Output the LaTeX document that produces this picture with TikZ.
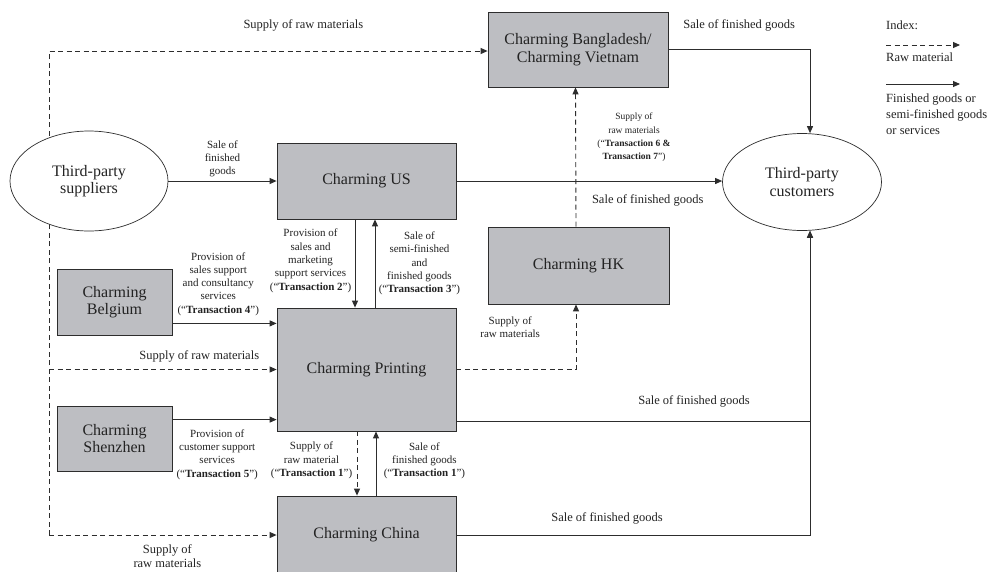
\documentclass[tikz,border=0pt]{standalone}
\usepackage{fontspec}
\setmainfont{Liberation Serif}
\usepackage{tikz}
\usetikzlibrary{arrows.meta, positioning, shapes.geometric}
\definecolor{boxgray}{RGB}{189,190,194}
\definecolor{edgegray}{RGB}{45,45,45}
\definecolor{inkgray}{RGB}{35,35,35}

\begin{document}
\begin{tikzpicture}[
  x=1pt, y=-1pt,
  box/.style={rectangle, draw=edgegray, fill=boxgray, line width=0.8pt, inner sep=0pt, font=\fontsize{16}{17.5}\selectfont, text=inkgray, align=center},
  party/.style={ellipse, draw=edgegray, fill=white, line width=0.7pt, inner sep=0pt, font=\fontsize{16}{17.5}\selectfont, text=inkgray, align=center},
  flow/.style={-{Triangle[length=7pt,width=6pt]}, edgegray, line width=0.9pt},
  raw/.style={flow, dash pattern=on 5pt off 3.5pt},
  lbl/.style={font=\fontsize{11}{13.3}\selectfont, text=inkgray, align=center},
  tinylbl/.style={font=\fontsize{9.5}{13.3}\selectfont, text=inkgray, align=center},
  biglbl/.style={font=\fontsize{12.5}{14}\selectfont, text=inkgray, align=center},
  lgd/.style={font=\fontsize{12.5}{16}\selectfont, text=inkgray, align=left, inner sep=0pt}
]
  \fill[white] (0,0) rectangle (1000,571);
  \useasboundingbox (0,0) rectangle (1000,571);

  \node[box, minimum width=180pt, minimum height=75pt] (bd) at (578,49.5) {Charming Bangladesh/\\Charming Vietnam};
  \node[box, minimum width=179pt, minimum height=76pt] (us) at (366.5,181) {Charming US};
  \node[box, minimum width=181pt, minimum height=77pt] (hk) at (578.5,265.5) {Charming HK};
  \node[box, minimum width=115pt, minimum height=66pt] (bel) at (114.5,302) {Charming\\Belgium};
  \node[box, minimum width=179pt, minimum height=123pt] (prt) at (366.5,369.5) {Charming Printing};
  \node[box, minimum width=115pt, minimum height=65pt] (shz) at (114.5,438.5) {Charming\\Shenzhen};
  \node[box, minimum width=179pt, minimum height=78pt] (chn) at (366.5,535) {Charming China};

  \coordinate (trunktop) at (49,51);
  \coordinate (trunkbot) at (49,535);
  \draw[raw] (trunkbot) -- (trunktop) -- node[biglbl, pos=0.58, above=16pt] {Supply of raw materials} (trunktop -| bd.west);
  \draw[raw] (trunktop |- prt.west) -- node[biglbl, pos=0.66, above=4pt] {Supply of raw materials} (prt.west);
  \draw[raw] (trunkbot) -- node[biglbl, pos=0.52, below=6pt] {Supply of\\raw materials} (chn.west);

  \node[party, minimum width=158pt, minimum height=100pt] (sup) at (89,181) {Third-party\\suppliers};
  \node[party, minimum width=159pt, minimum height=97pt] (cust) at (802,182) {Third-party\\customers};

  \draw[flow] (sup.east) -- node[lbl, midway, above] {Sale of\\finished\\goods} (us.west);
  \draw[flow] (us.east) -- node[biglbl, pos=0.72, below=10pt] {Sale of finished goods} (us.east -| cust.west);
  \draw[flow] (bd.east) -| node[biglbl, pos=0.25, above=15pt] {Sale of finished goods} ([xshift=8pt]cust.north);
  \draw[flow] ([yshift=10pt]prt.south east) -| node[biglbl, pos=0.336, above=10pt] {Sale of finished goods} ([xshift=8pt]cust.south);
  \draw[flow] (chn.east) -| node[biglbl, pos=0.213, above=7pt] {Sale of finished goods} ([xshift=8pt]cust.south);

  \draw[flow] ([yshift=12pt]bel.south east) coordinate (b4) -- node[lbl, pos=0.44, above=4pt] {Provision of\\sales support\\and consultancy\\services\\(“\textbf{Transaction 4}”)} (b4 -| prt.west);
  \draw[flow] ([yshift=-14pt]shz.north east) coordinate (b5) -- node[lbl, pos=0.43, below=6pt] {Provision of\\customer support\\services\\(“\textbf{Transaction 5}”)} (b5 -| prt.west);

  \draw[flow] ([xshift=-11.5pt]us.south) coordinate (t2) -- node[lbl, pos=0.47, left] {Provision of\\sales and\\marketing\\support services\\(“\textbf{Transaction 2}”)} (t2 |- prt.north);
  \draw[flow] ([xshift=8.5pt]prt.north) coordinate (t3) -- node[lbl, midway, right] {Sale of\\semi-finished\\and\\finished goods\\(“\textbf{Transaction 3}”)} (t3 |- us.south);
  \draw[raw] ([xshift=-9.5pt]prt.south) coordinate (t1a) -- node[lbl, pos=0.45, left=1pt] {Supply of\\raw material\\(“\textbf{Transaction 1}”)} (t1a |- chn.north);
  \draw[flow] ([xshift=9.5pt]chn.north) coordinate (t1b) -- node[lbl, pos=0.54, right=4pt] {Sale of\\finished goods\\(“\textbf{Transaction 1}”)} (t1b |- prt.south);

  \draw[raw] (prt.east) -| node[lbl, pos=0.225, above=28pt] {Supply of\\raw materials} ([xshift=-2.5pt]hk.south);
  \draw[raw] ([xshift=-2.5pt]hk.north) -- node[tinylbl, pos=0.64, right=18pt] {Supply of\\raw materials\\(“\textbf{Transaction 6 \&}\\\textbf{Transaction 7}”)} ([xshift=-2.5pt]bd.south);

  \node[lgd, anchor=west] (idx) at (886,25) {Index:};
  \coordinate (rawa) at (886,45);
  \coordinate (rawb) at (960,45);
  \draw[raw] (rawa) -- (rawb);
  \node[lgd, anchor=west] (rawtxt) at (886,57) {Raw material};
  \coordinate (fina) at (886,84);
  \coordinate (finb) at (960,84);
  \draw[flow] (fina) -- (finb);
  \node[lgd, anchor=north west] (fintxt) at (886,94) {Finished goods or\\semi-finished goods\\or services};
\end{tikzpicture}
\end{document}
